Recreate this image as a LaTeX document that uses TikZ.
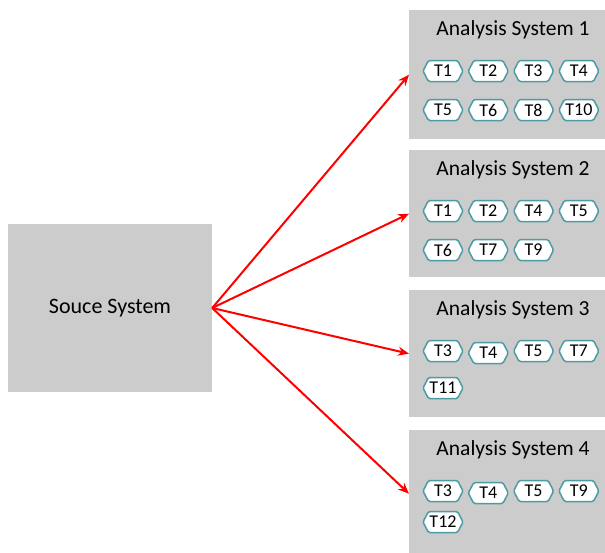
\documentclass[tikz,border=0pt]{standalone}
\usepackage{fontspec}
\setmainfont{Carlito}
\usetikzlibrary{shapes.symbols,arrows.meta,positioning}

\definecolor{boxgray}{HTML}{CCCCCC}
\definecolor{tagteal}{HTML}{4E9BA3}

\begin{document}
\begin{tikzpicture}[x=1pt, y=-1pt, node distance=45.3pt,
    sysbox/.style={rectangle, fill=boxgray, inner sep=0pt, anchor=north west, minimum width=197pt, minimum height=127pt},
    systitle/.style={anchor=base, font=\fontsize{21.5}{24}\selectfont},
    tag/.style={signal, signal to=east and west, signal pointer angle=125, draw=tagteal, line width=1.5pt, fill=white, rounded corners=1.5pt, minimum width=40pt, minimum height=21pt, inner sep=0pt, font=\fontsize{18}{20}\selectfont},
    link/.style={-{Stealth[length=11pt, width=9pt]}, red, line width=2pt}]
                \useasboundingbox (0,0) rectangle (605,552);

                \node[rectangle, fill=boxgray, minimum width=204pt, minimum height=168pt, font=\fontsize{22}{24}\selectfont] (source) at (110,308) {Souce System};

                \node[sysbox, minimum height=129pt] (as1) at (409,10) {};
                \node[sysbox] (as2) at (409,150) {};
                \node[sysbox] (as3) at (409,290) {};
                \node[sysbox] (as4) at (409,430) {};

                \node[systitle] (as1title) at (513,35) {Analysis System 1};
                \node[systitle] (as2title) at (513,175) {Analysis System 2};
                \node[systitle] (as3title) at (513,315) {Analysis System 3};
                \node[systitle] (as4title) at (513,455) {Analysis System 4};

                \node[tag] (as1t1) at (443,71) {T1};
                \node[tag, right of=as1t1] (as1t2) {T2};
                \node[tag, right of=as1t2] (as1t3) {T3};
                \node[tag, right of=as1t3] (as1t4) {T4};
                \node[tag] (as1t5) at (443,110) {T5};
                \node[tag, right of=as1t5] (as1t6) {T6};
                \node[tag, right of=as1t6] (as1t8) {T8};
                \node[tag, right of=as1t8] (as1t10) {T10};

                \node[tag] (as2t1) at (443,211) {T1};
                \node[tag, right of=as2t1] (as2t2) {T2};
                \node[tag, right of=as2t2] (as2t4) {T4};
                \node[tag, right of=as2t4] (as2t5) {T5};
                \node[tag] (as2t6) at (443,250) {T6};
                \node[tag, right of=as2t6] (as2t7) {T7};
                \node[tag, right of=as2t7] (as2t9) {T9};

                \node[tag] (as3t3) at (443,351) {T3};
                \node[tag, right of=as3t3, yshift=-2pt] (as3t4) {T4};
                \node[tag, right of=as3t3, xshift=45.3pt] (as3t5) {T5};
                \node[tag, right of=as3t5] (as3t7) {T7};
                \node[tag] (as3t11) at (443,388) {T11};

                \node[tag] (as4t3) at (443,491) {T3};
                \node[tag, right of=as4t3, yshift=-2pt] (as4t4) {T4};
                \node[tag, right of=as4t3, xshift=45.3pt] (as4t5) {T5};
                \node[tag, right of=as4t5] (as4t9) {T9};
                \node[tag] (as4t12) at (443,522) {T12};

                \draw[link] (source.east) -- (as1.west);
                \draw[link] (source.east) -- (as2.west);
                \draw[link] (source.east) -- (as3.west);
                \draw[link] (source.east) -- (as4.west);
            \end{tikzpicture}
\end{document}
